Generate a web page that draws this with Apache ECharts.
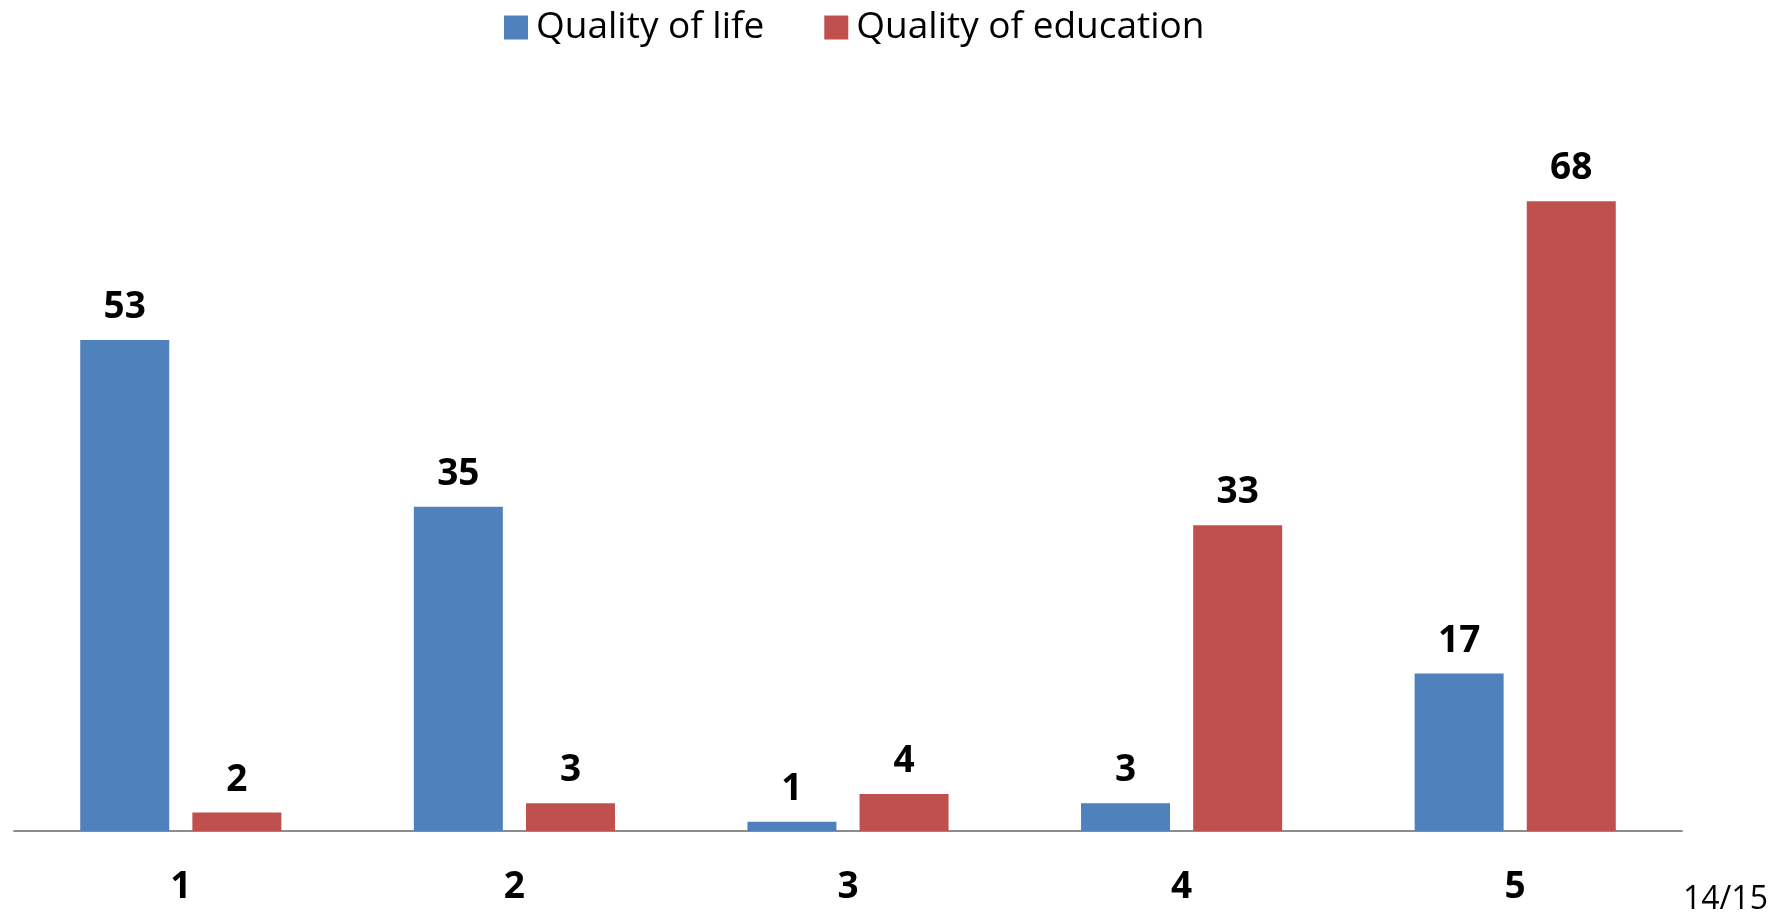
<!DOCTYPE html>
<html>
<head>
<meta charset="utf-8">
<script src="https://cdn.jsdelivr.net/npm/echarts@6/dist/echarts.min.js"></script>
<style>
html,body{margin:0;padding:0;background:#fff;}
#chart{width:1779px;height:916px;}
</style>
</head>
<body>
<div id="chart"></div>
<script>
const categories = ['1', '2', '3', '4', '5'];
const qualityOfLife = [53, 35, 1, 3, 17];
const qualityOfEducation = [2, 3, 4, 33, 68];
const seriesNames = ['Quality of life', 'Quality of education'];
const pageNote = '14/15';

const chart = echarts.init(document.getElementById('chart'));
const labelStyle = {
  show: true,
  position: 'top',
  distance: 14,
  fontFamily: 'Open Sans',
  fontWeight: 'bold',
  fontSize: 37,
  color: '#000'
};
chart.setOption({
  animation: false,
  backgroundColor: '#fff',
  legend: {
    left: 499,
    top: 4,
    itemWidth: 24,
    itemHeight: 24,
    itemGap: 60,
    icon: 'rect',
    textStyle: { fontFamily: 'Open Sans', fontSize: 37, color: '#000', padding: [0, 0, 0, 3] },
    data: seriesNames
  },
  grid: { left: 14, right: 97, top: 90, bottom: 85, containLabel: false },
  xAxis: {
    type: 'category',
    data: categories,
    axisLine: { lineStyle: { color: '#8c8c8c', width: 2 } },
    axisTick: { show: false },
    axisLabel: {
      margin: 38,
      fontFamily: 'Open Sans',
      fontWeight: 'bold',
      fontSize: 37,
      color: '#000'
    }
  },
  yAxis: {
    type: 'value',
    min: 0,
    max: 80,
    show: false,
    splitLine: { show: false }
  },
  series: [
    {
      name: seriesNames[0],
      type: 'bar',
      data: qualityOfLife,
      barWidth: 89,
      barGap: '26%',
      itemStyle: { color: '#4F81BD' },
      label: labelStyle
    },
    {
      name: seriesNames[1],
      type: 'bar',
      data: qualityOfEducation,
      barWidth: 89,
      barGap: '26%',
      itemStyle: { color: '#C0504D' },
      label: labelStyle
    }
  ],
  graphic: [{
    type: 'text',
    left: 1683,
    top: 884,
    style: { text: pageNote, fontFamily: 'Open Sans', fontSize: 32, fill: '#000' }
  }]
});
</script>
</body>
</html>
